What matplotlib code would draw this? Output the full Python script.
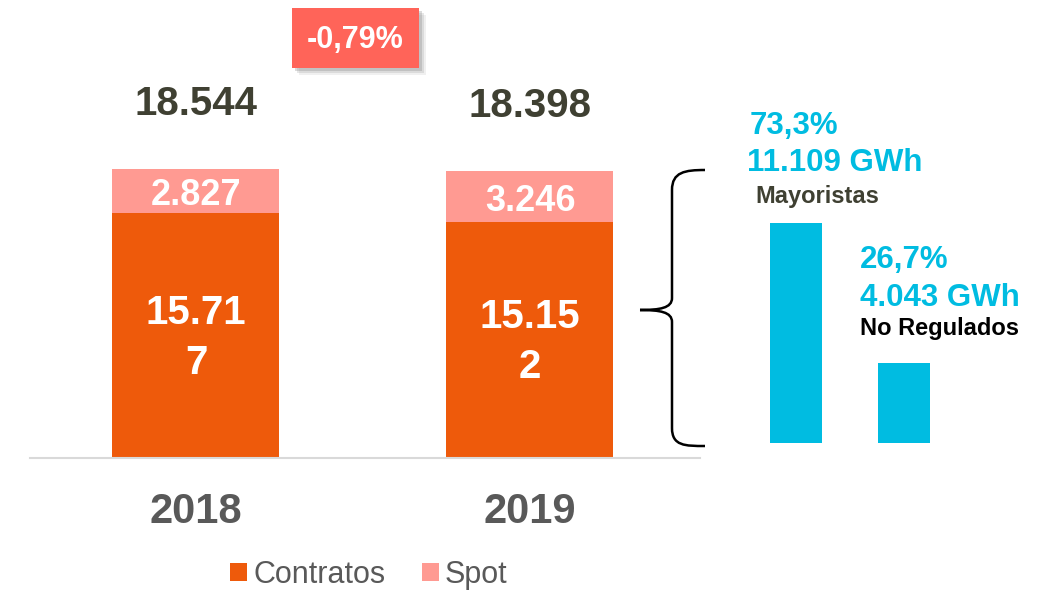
import matplotlib.pyplot as plt
from matplotlib.patches import Rectangle, PathPatch
from matplotlib.path import Path

plt.rcParams['font.family'] = ['Liberation Sans', 'DejaVu Sans']

# data
years = ['2018', '2019']
contratos = [15717, 15152]
spot = [2827, 3246]
totals = [18544, 18398]
contratos_labels = ['15.71\n7', '15.15\n2']
spot_labels = ['2.827', '3.246']
total_labels = ['18.544', '18.398']
variation = '-0,79%'

segments = ['Mayoristas', 'No Regulados']
segment_gwh = [11109, 4043]
segment_pct = ['73,3%', '26,7%']
segment_gwh_labels = ['11.109 GWh', '4.043 GWh']

ORANGE = '#EE5A0B'
PINK = '#FF9A92'
CYAN = '#00BCE1'
RED_BOX = '#FF6459'
DARK = '#3F4032'
GRAY = '#595959'

W, H = 1045, 591
fig = plt.figure(figsize=(W / 100, H / 100), dpi=100)


def fx(px):
    return px / W


def fy(py):
    return 1 - py / H


# left stacked bars
ax = fig.add_axes([fx(30), fy(458), fx(670), 374 / H])
x = [0, 1]
b1 = ax.bar(x, contratos, width=0.5, color=ORANGE, label='Contratos')
b2 = ax.bar(x, spot, width=0.5, bottom=contratos, color=PINK, label='Spot')
ax.set_xlim(-0.497, 1.509)
ax.set_ylim(0, 24000)
for s in ['top', 'right', 'left']:
    ax.spines[s].set_visible(False)
ax.spines['bottom'].set_color('#D9D9D9')
ax.spines['bottom'].set_linewidth(1.5)
ax.set_yticks([])
ax.set_xticks([])

for i in x:
    ax.text(i, contratos[i] * 0.49, contratos_labels[i], ha='center', va='center',
            color='white', fontsize=29, fontweight='bold', linespacing=1.4)
    ax.text(i, contratos[i] + spot[i] * 0.4, spot_labels[i], ha='center', va='center',
            color='white', fontsize=26, fontweight='bold')
    ax.text(i, totals[i] + 4200, total_labels[i], ha='center', va='center',
            color=DARK, fontsize=29, fontweight='bold')
    ax.text(i, -3450, years[i], ha='center', va='center',
            color=GRAY, fontsize=30, fontweight='bold')

# variation box with soft shadow
for k, a in [(7, 0.12), (5, 0.2), (3, 0.3)]:
    fig.patches.append(Rectangle((fx(292 + k), fy(68 + k)), fx(127), 60 / H,
                                 transform=fig.transFigure, facecolor='#888888',
                                 edgecolor='none', alpha=a, zorder=1))
fig.patches.append(Rectangle((fx(292), fy(68)), fx(127), 60 / H, transform=fig.transFigure,
                             facecolor=RED_BOX, edgecolor='none', zorder=2))
fig.text(fx(355), fy(40), variation, ha='center', va='center', color='white',
         fontsize=22, fontweight='bold', zorder=3)

# brace
verts = [(705, 170), (685, 170), (672, 172), (672, 190),
         (672, 298), (672, 308), (660, 310), (640, 310),
         (660, 310), (672, 312), (672, 322),
         (672, 428), (672, 446), (685, 446), (705, 446)]
codes = [Path.MOVETO, Path.CURVE4, Path.CURVE4, Path.CURVE4,
         Path.LINETO, Path.CURVE4, Path.CURVE4, Path.CURVE4,
         Path.CURVE4, Path.CURVE4, Path.CURVE4,
         Path.LINETO, Path.CURVE4, Path.CURVE4, Path.CURVE4]
brace = Path([(fx(a), fy(b)) for a, b in verts], codes)
fig.patches.append(PathPatch(brace, transform=fig.transFigure, facecolor='none',
                             edgecolor='black', linewidth=1.8))

# right bars
ax2 = fig.add_axes([fx(740), fy(443), fx(305), 277 / H])
ax2.bar([0, 1], segment_gwh, width=0.49, color=CYAN)
ax2.set_xlim(-0.519, 2.306)
ax2.set_ylim(0, 14000)
ax2.axis('off')

fig.text(fx(750), fy(126), segment_pct[0], ha='left', va='center', color=CYAN,
         fontsize=22.5, fontweight='bold')
fig.text(fx(747), fy(163), segment_gwh_labels[0], ha='left', va='center', color=CYAN,
         fontsize=22.5, fontweight='bold')
fig.text(fx(755), fy(196), segments[0], ha='left', va='center', color=DARK,
         fontsize=17, fontweight='bold')
fig.text(fx(860), fy(260), segment_pct[1], ha='left', va='center', color=CYAN,
         fontsize=22.5, fontweight='bold')
fig.text(fx(860), fy(298), segment_gwh_labels[1], ha='left', va='center', color=CYAN,
         fontsize=22.5, fontweight='bold')
fig.text(fx(860), fy(328), segments[1], ha='left', va='center', color='black',
         fontsize=17, fontweight='bold')

leg = fig.legend(handles=[b1, b2], loc='center', bbox_to_anchor=(fx(369), fy(575)),
                 ncol=2, frameon=False, fontsize=22, handlelength=0.55, handleheight=0.55,
                 handletextpad=0.2, columnspacing=1.2, borderpad=0)
for t in leg.get_texts():
    t.set_color(GRAY)

fig.savefig('out.png', dpi=100)
